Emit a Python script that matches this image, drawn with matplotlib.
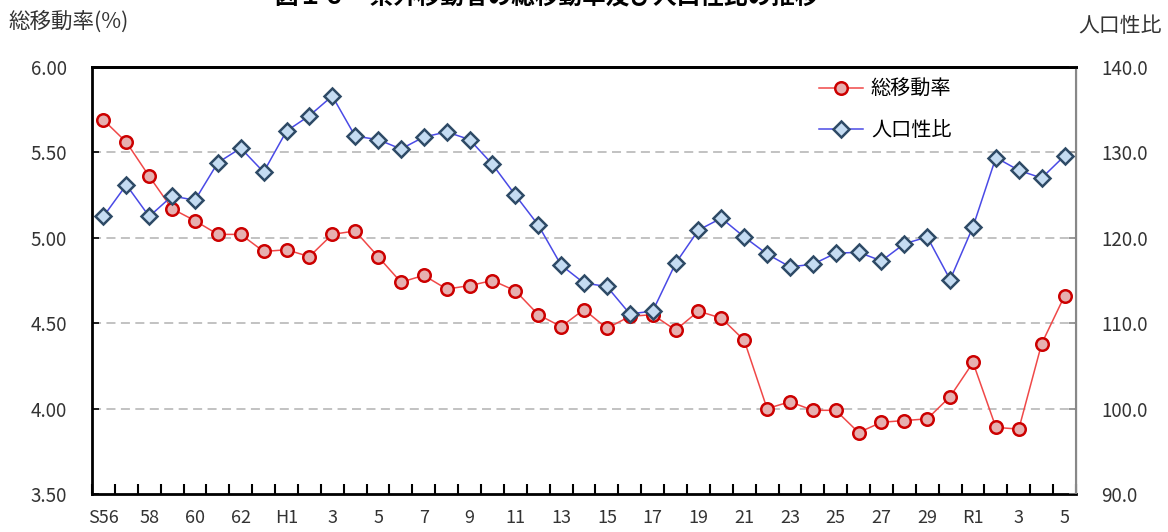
import matplotlib
matplotlib.use('Agg')
import matplotlib.pyplot as plt
import numpy as np

plt.rcParams['font.family'] = ['Noto Sans CJK JP', 'DejaVu Sans']

# 年次（S56〜R5）
years = ['S56', '57', '58', '59', '60', '61', '62', '63',
         'H1', '2', '3', '4', '5', '6', '7', '8', '9', '10', '11', '12', '13', '14', '15',
         '16', '17', '18', '19', '20', '21', '22', '23', '24', '25', '26', '27', '28', '29', '30',
         'R1', '2', '3', '4', '5']

# 総移動率(%)
move_rate = [5.69, 5.56, 5.36, 5.17, 5.10, 5.02, 5.02, 4.92, 4.93, 4.89,
             5.02, 5.04, 4.89, 4.74, 4.78, 4.70, 4.72, 4.75, 4.69, 4.55,
             4.48, 4.58, 4.47, 4.54, 4.55, 4.46, 4.57, 4.53, 4.40, 4.00,
             4.04, 3.99, 3.99, 3.86, 3.92, 3.93, 3.94, 4.07, 4.27, 3.89,
             3.88, 4.38, 4.66]

# 人口性比
sex_ratio = [122.5, 126.2, 122.5, 124.9, 124.4, 128.8, 130.5, 127.7, 132.5, 134.3,
             136.6, 131.9, 131.5, 130.4, 131.8, 132.4, 131.5, 128.6, 125.0, 121.5,
             116.8, 114.7, 114.3, 111.1, 111.4, 117.0, 120.9, 122.3, 120.1, 118.1,
             116.6, 116.9, 118.2, 118.3, 117.3, 119.3, 120.1, 115.1, 121.3, 129.4,
             127.9, 127.0, 129.6]

x = np.arange(len(years))

fig = plt.figure(figsize=(11.68, 5.32), dpi=100)
ax = fig.add_axes([92 / 1168, 38 / 532, 984 / 1168, 427 / 532])
ax2 = ax.twinx()

l1, = ax.plot(x, move_rate, color='#f04848', lw=1.1, marker='o', ms=9,
              mfc='#e6b0b0', mec='#cc0000', mew=1.8, label='総移動率', zorder=3)
l2, = ax2.plot(x, sex_ratio, color='#4a4ae6', lw=1.1, marker='D', ms=8,
               mfc='#c5dcf2', mec='#2e4a66', mew=1.8, label='人口性比', zorder=3)

ax.set_xlim(-0.5, len(years) - 0.5)
ax.set_ylim(3.5, 6.0)
ax.set_yticks([3.5, 4.0, 4.5, 5.0, 5.5, 6.0])
ax.set_yticklabels(['%.2f' % v for v in [3.5, 4.0, 4.5, 5.0, 5.5, 6.0]])
ax2.set_ylim(90, 140)
ax2.set_yticks([90, 100, 110, 120, 130, 140])
ax2.set_yticklabels(['%.1f' % v for v in [90, 100, 110, 120, 130, 140]])

for v in [4.0, 4.5, 5.0, 5.5]:
    ax.axhline(v, color='#bdbdbd', lw=1.3, ls=(0, (5, 3)), zorder=1)

# x軸：カテゴリ境界に目盛、2年おきにラベル
ax.set_xticks(np.arange(-0.5, len(years) - 0.5 + 0.01, 1.0))
ax.set_xticklabels([])
ax.set_xticks(x[::2], minor=True)
ax.set_xticklabels([years[i] for i in range(0, len(years), 2)], minor=True)
ax.tick_params(axis='x', which='major', direction='in', length=7, width=1.5)
ax.tick_params(axis='x', which='minor', length=0, pad=11, labelsize=13, labelcolor='#333333')
ax.tick_params(axis='y', direction='in', length=5, width=1.2, labelsize=13.5,
               labelcolor='#333333', pad=18)
ax2.tick_params(axis='y', direction='in', length=5, width=1.2, labelsize=13.5,
                labelcolor='#333333', pad=18, color='#888888')

for sp in ['left', 'bottom', 'top']:
    ax.spines[sp].set_linewidth(2)
    ax.spines[sp].set_color('black')
ax2.spines['top'].set_linewidth(2)
ax2.spines['right'].set_color('#888888')
ax2.spines['right'].set_linewidth(1.5)
ax2.spines['left'].set_visible(False)

ax.legend(handles=[l1, l2], loc='upper left', bbox_to_anchor=(0.72, 1.015), frameon=False,
          fontsize=14.5, handlelength=2.2, labelspacing=1.0, handletextpad=0.4)

fig.text(8 / 1168, 1 - 22 / 532, '総移動率(%)', fontsize=15.5, va='center', ha='left', color='#333333')
fig.text(1162 / 1168, 1 - 26 / 532, '人口性比', fontsize=15, va='center', ha='right', color='#333333')
fig.text(547 / 1168, 1 + 4 / 532, '図１６　県外移動者の総移動率及び人口性比の推移',
         fontsize=17, fontweight='bold', va='center', ha='center')

fig.savefig('out.png', dpi=100)
